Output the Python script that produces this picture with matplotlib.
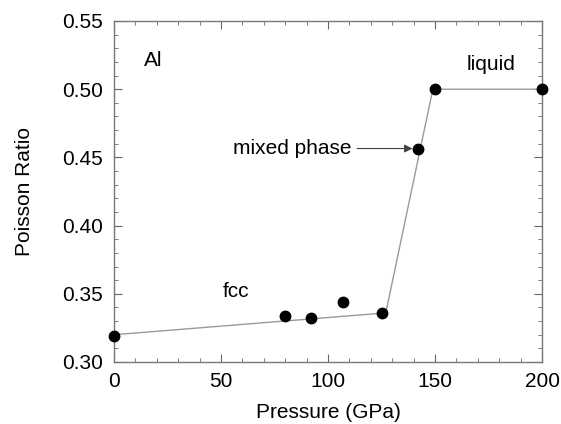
import numpy as np
import matplotlib.pyplot as plt
from matplotlib.ticker import MultipleLocator

plt.rcParams['font.family'] = ['Liberation Sans', 'DejaVu Sans']

# measured points
pressure = [0, 80, 92, 107, 125, 142, 150, 200]
poisson = [0.319, 0.334, 0.332, 0.344, 0.336, 0.456, 0.500, 0.500]

# guide line through the phases
line_p = [0, 127, 149, 200]
line_v = [0.320, 0.336, 0.500, 0.500]

fs = 15

fig = plt.figure(figsize=(5.61, 4.24), dpi=100)
ax = fig.add_axes([114/561, 1-362/424, 428/561, 341/424])

ax.plot(line_p, line_v, color='#9a9a9a', linewidth=1.0, zorder=2)
ax.plot(pressure, poisson, 'o', color='black', markersize=7.5, zorder=3, clip_on=False)

ax.set_xlim(0, 200)
ax.set_ylim(0.30, 0.55)
ax.xaxis.set_major_locator(MultipleLocator(50))
ax.xaxis.set_minor_locator(MultipleLocator(10))
ax.yaxis.set_major_locator(MultipleLocator(0.05))
ax.yaxis.set_minor_locator(MultipleLocator(0.01))
ax.yaxis.set_major_formatter(plt.FormatStrFormatter('%.2f'))
ax.tick_params(which='both', direction='in', top=True, right=True, colors='#666666',
               labelcolor='black', labelsize=fs)
ax.tick_params(which='major', length=6)
ax.tick_params(which='minor', length=3)
ax.tick_params(axis='y', which='major', pad=8)
ax.tick_params(axis='x', which='major', pad=7)
for s in ax.spines.values():
    s.set_color('#777777')
    s.set_linewidth(1.0)

ax.set_xlabel('Pressure (GPa)', fontsize=fs, labelpad=9)
ax.set_ylabel('Poisson Ratio', fontsize=fs, labelpad=20)

ax.text(14, 0.521, 'Al', fontsize=fs, va='center')
ax.text(165, 0.518, 'liquid', fontsize=fs, va='center')
ax.text(51, 0.3515, 'fcc', fontsize=fs, va='center')
ax.annotate('mixed phase', xy=(139.5, 0.4565), xytext=(111, 0.4565),
            fontsize=fs, ha='right', va='center',
            arrowprops=dict(arrowstyle='-|>', color='#444444', lw=0.8,
                            shrinkA=2, shrinkB=0, mutation_scale=12))

fig.savefig('out.png', dpi=100)
